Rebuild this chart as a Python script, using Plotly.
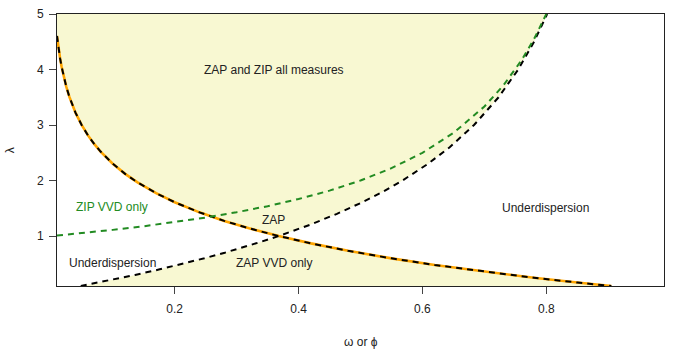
import plotly.graph_objects as go

# axis limits
X_MIN, X_MAX = 0.01, 0.99
Y_MIN, Y_MAX = 0.1, 5

# ZAP mean = variance boundary (orange under black dashes)
zap_omega = [0.01, 0.0125, 0.015, 0.0175, 0.02, 0.025, 0.03, 0.04, 0.05, 0.06, 0.07, 0.08,
             0.1, 0.12, 0.14, 0.17, 0.2, 0.24, 0.28, 0.32, 0.368, 0.42, 0.48, 0.55,
             0.62, 0.7, 0.78, 0.85, 0.905]
zap_lambda = [4.605, 4.382, 4.200, 4.046, 3.912, 3.689, 3.507, 3.219, 2.996, 2.813, 2.659, 2.526,
              2.303, 2.120, 1.966, 1.772, 1.609, 1.427, 1.273, 1.139, 1.000, 0.868, 0.734, 0.598,
              0.478, 0.357, 0.248, 0.163, 0.100]

# ZAP VVD boundary (black dashed, increasing)
vvd_omega = [0.0484, 0.0937, 0.1361, 0.1758, 0.2131, 0.2480, 0.2808, 0.3117, 0.3406, 0.3679,
             0.4177, 0.4619, 0.5012, 0.5363, 0.5677, 0.6088, 0.6440, 0.6833, 0.7229, 0.7546,
             0.7802, 0.8013]
vvd_lambda = [0.1, 0.2, 0.3, 0.4, 0.5, 0.6, 0.7, 0.8, 0.9, 1.0,
              1.2, 1.4, 1.6, 1.8, 2.0, 2.3, 2.6, 3.0, 3.5, 4.0,
              4.5, 5.0]

# ZIP VVD boundary (green dashed)
zip_omega = [0.01, 0.05, 0.1, 0.15, 0.2, 0.25, 0.3, 0.35, 0.4, 0.45, 0.5, 0.55,
             0.6, 0.65, 0.7, 0.73, 0.76, 0.78, 0.8]
zip_lambda = [1.010, 1.053, 1.111, 1.176, 1.250, 1.333, 1.429, 1.538, 1.667, 1.818, 2.000, 2.222,
              2.500, 2.857, 3.333, 3.704, 4.167, 4.545, 5.000]

# region labels
lab_text = ["ZAP and ZIP all measures", "ZIP VVD only", "ZAP", "Underdispersion",
            "ZAP VVD only", "Underdispersion"]
lab_x = [0.360, 0.099, 0.360, 0.100, 0.360, 0.798]
lab_y = [3.99, 1.52, 1.29, 0.51, 0.51, 1.50]
lab_col = ["#222222", "#228B22", "#222222", "#222222", "#222222", "#222222"]

FILL = "#F8F8D2"
FONT = "Liberation Sans, Arial, Helvetica, sans-serif"

# crossing of the two black curves
x_cross = 0.368

# yellow regions: above both curves, and below both curves
top_x = [x for x in zap_omega if x <= x_cross] + [x for x, y in zip(vvd_omega, vvd_lambda) if y > 1.0] + [X_MIN]
top_y = [y for x, y in zip(zap_omega, zap_lambda) if x <= x_cross] + [y for y in vvd_lambda if y > 1.0] + [Y_MAX]
bot_x = [x for x, y in zip(vvd_omega, vvd_lambda) if y <= 1.0] + [x for x in zap_omega if x > x_cross]
bot_y = [y for y in vvd_lambda if y <= 1.0] + [y for x, y in zip(zap_omega, zap_lambda) if x > x_cross]

fig = go.Figure()

fig.add_trace(go.Scatter(x=top_x, y=top_y, fill="toself", fillcolor=FILL, mode="none", hoverinfo="skip"))
fig.add_trace(go.Scatter(x=bot_x, y=bot_y, fill="toself", fillcolor=FILL, mode="none", hoverinfo="skip"))

fig.add_trace(go.Scatter(x=zap_omega, y=zap_lambda, mode="lines",
                         line=dict(color="#FFA500", width=2.6)))
fig.add_trace(go.Scatter(x=zap_omega, y=zap_lambda, mode="lines",
                         line=dict(color="black", width=2, dash="6px,5px")))
fig.add_trace(go.Scatter(x=vvd_omega, y=vvd_lambda, mode="lines",
                         line=dict(color="black", width=2, dash="6px,5px")))
fig.add_trace(go.Scatter(x=zip_omega, y=zip_lambda, mode="lines",
                         line=dict(color="#228B22", width=2, dash="6px,5px")))

for t, x, y, c in zip(lab_text, lab_x, lab_y, lab_col):
    fig.add_annotation(x=x, y=y, text=t, showarrow=False, font=dict(size=12, color=c))

fig.add_annotation(xref="paper", yref="paper", x=0.5, y=-0.206, text="ω or ϕ",
                   showarrow=False, yanchor="middle", font=dict(size=12, color="#222222"))
fig.add_annotation(xref="paper", yref="paper", x=-0.077, y=0.5, text="λ", textangle=-90,
                   showarrow=False, xanchor="center", font=dict(size=12, color="#222222"))

fig.update_layout(
    template="none",
    width=678, height=350,
    margin=dict(l=57, r=14, t=14, b=64, autoexpand=False),
    paper_bgcolor="white", plot_bgcolor="white",
    showlegend=False,
    font=dict(family=FONT, size=12, color="#222222"),
    xaxis=dict(range=[X_MIN, X_MAX], tickvals=[0.2, 0.4, 0.6, 0.8], ticktext=["0.2", "0.4", "0.6", "0.8"],
               ticks="outside", ticklen=7, tickcolor="#444", showgrid=False, zeroline=False, automargin=False,
               showline=True, linecolor="#222", linewidth=1, mirror=True, ticklabelstandoff=5),
    yaxis=dict(range=[Y_MIN, Y_MAX], tickvals=[1, 2, 3, 4, 5], automargin=False,
               ticks="outside", ticklen=7, tickcolor="#444", showgrid=False, zeroline=False,
               showline=True, linecolor="#222", linewidth=1, mirror=True, ticklabelstandoff=3),
)

fig.write_html("out.html", config={"displayModeBar": False},
               post_script="document.body.style.margin='0';")
